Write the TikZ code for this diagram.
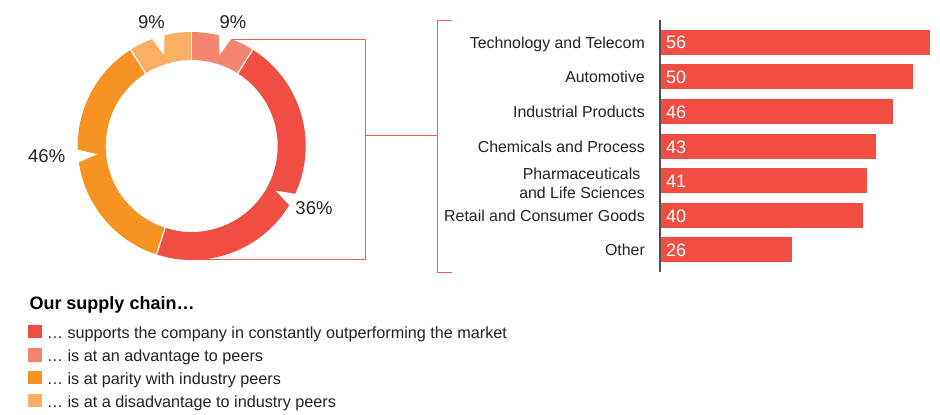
\documentclass[tikz,border=0pt]{standalone}
\usepackage{fontspec}
\setmainfont{Liberation Sans}
\definecolor{cRed}{RGB}{240,78,66}
\definecolor{cLRed}{RGB}{244,133,112}
\definecolor{cOrg}{RGB}{246,147,34}
\definecolor{cLOrg}{RGB}{251,175,101}
\definecolor{txt}{RGB}{34,34,34}
\definecolor{axisc}{RGB}{77,77,77}
\definecolor{lineRed}{RGB}{242,90,80}
\begin{document}
\begin{tikzpicture}[x=1pt,y=-1pt,
  lbl/.style={font=\fontsize{15.9}{19.4}\selectfont, text=txt, inner sep=0pt, anchor=base east},
  pct/.style={font=\fontsize{18.5}{20}\selectfont, text=txt, inner sep=0pt},
  num/.style={font=\fontsize{18}{20}\selectfont, text=white, inner sep=0pt, anchor=base west},
  leg/.style={font=\fontsize{16.2}{19}\selectfont, text=txt, inner sep=0pt, anchor=base west},
  bar/.style={fill=cRed},
  conn/.style={draw=lineRed, line width=1.2pt},
  sep/.style={draw=white, line width=1.2pt},
  notch/.style={fill=white}]
\useasboundingbox (0,0) rectangle (940,415);

% connectors (behind donut)
\coordinate (ctop) at (232.4,39.5);
\coordinate (cbot) at (188,259.5);
\coordinate (kTR) at (365.5,39.5);
\coordinate (kBR) at (365.5,259.5);
\coordinate (kM) at (365.5,135.5);
\coordinate (bM) at (437.5,135.5);
\coordinate (bT) at (437.5,20.5);
\coordinate (bTt) at (452,20.5);
\coordinate (bB) at (437.5,272.5);
\coordinate (bBt) at (452,272.5);
\draw[conn] (ctop) -- (kTR) -- (kBR) -- (cbot);
\draw[conn] (kM) -- (bM);
\draw[conn] (bTt) -- (bT) -- (bB) -- (bBt);

% donut
\begin{scope}[shift={(191.7,146)}, y=1pt]
  \fill[cLRed] (57.6:114) arc[start angle=57.6,end angle=90,radius=114] -- (90:86) arc[start angle=90,end angle=57.6,radius=86] -- cycle;
  \fill[cRed] (-108:114) arc[start angle=-108,end angle=57.6,radius=114] -- (57.6:86) arc[start angle=57.6,end angle=-108,radius=86] -- cycle;
  \fill[cOrg] (122.4:114) arc[start angle=122.4,end angle=252,radius=114] -- (252:86) arc[start angle=252,end angle=122.4,radius=86] -- cycle;
  \fill[cLOrg] (90:114) arc[start angle=90,end angle=122.4,radius=114] -- (122.4:86) arc[start angle=122.4,end angle=90,radius=86] -- cycle;
  \foreach \a in {57.6,-108,122.4,90} \draw[sep] (\a:85) -- (\a:115);
  % notches
  \foreach \c in {73,107,185,-28}
    \fill[notch] (\c-3.6:117) -- (\c:95) -- (\c+3.6:117) -- cycle;
\end{scope}

% percent labels
\node[pct] (p1) at (151.5,22.5) {9\%};
\node[pct] (p2) at (233,22.5) {9\%};
\node[pct] (p3) at (46.7,156.5) {46\%};
\node[pct] (p4) at (314,208.3) {36\%};

% bar chart
\coordinate (axT) at (660,20);
\coordinate (axB) at (660,272);
\foreach \yt/\yb/\xe/\v [count=\i] in {30/54.5/930/56, 64.3/89/912.7/50, 99.3/123.7/892.7/46, 134.3/158.7/875.7/43, 168.3/192.7/866.7/41, 203.3/227.7/862.7/40, 237.3/261.7/791.7/26}{
  \fill[bar] (660,\yt) rectangle (\xe,\yb);
  \node[num] (n\i) at (666,{(\yt+\yb)/2+6.5}) {\v};
}
\draw[axisc, line width=1.5pt] (axT) -- (axB);

\node[lbl] (l1) at (645,48.4) {Technology and Telecom};
\node[lbl] (l2) at (645,82.9) {Automotive};
\node[lbl] (l3) at (645,117.7) {Industrial Products};
\node[lbl] (l4) at (645,152.7) {Chemicals and Process};
\node[lbl] (l5a) at (645,179.3) {Pharmaceuticals\hspace*{4.5pt}};
\node[lbl] (l5b) at (645,198.7) {and Life Sciences};
\node[lbl] (l6) at (645,221.7) {Retail and Consumer Goods};
\node[lbl] (l7) at (645,255.7) {Other};

% legend
\node[font=\bfseries\fontsize{18}{20}\selectfont, text=black, inner sep=0pt, anchor=base west] (lt) at (29.3,309) {Our supply chain…};
\fill[cRed] (28.3,325) rectangle (41.6,338.3);
\fill[cLRed] (28.3,348.3) rectangle (41.6,361.6);
\fill[cOrg] (28.3,371) rectangle (41.6,384.3);
\fill[cLOrg] (28.3,394) rectangle (41.6,407.3);
\node[leg] (g1) at (46.7,338.3) {… supports the company in constantly outperforming the market};
\node[leg] (g2) at (46.7,361.6) {… is at an advantage to peers};
\node[leg] (g3) at (46.7,384.3) {… is at parity with industry peers};
\node[leg] (g4) at (46.7,407.3) {… is at a disadvantage to industry peers};
\end{tikzpicture}
\end{document}
